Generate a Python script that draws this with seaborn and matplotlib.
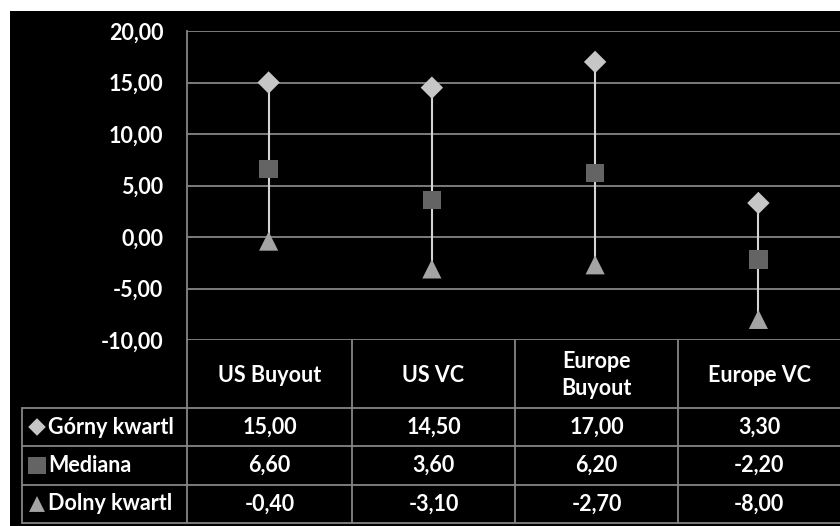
import matplotlib
matplotlib.use("Agg")
import matplotlib.pyplot as plt
from matplotlib.patches import Rectangle
from matplotlib.ticker import FuncFormatter
import seaborn as sns
import pandas as pd

categories = ["US Buyout", "US VC", "Europe Buyout", "Europe VC"]
header_labels = ["US Buyout", "US VC", "Europe\nBuyout", "Europe VC"]
series_names = ["Górny kwartl", "Mediana", "Dolny kwartl"]
upper = [15.00, 14.50, 17.00, 3.30]
median = [6.60, 3.60, 6.20, -2.20]
lower = [-0.40, -3.10, -2.70, -8.00]
y_ticks = [-10, -5, 0, 5, 10, 15, 20]

sns.set_theme(style="dark")
plt.rcParams["font.family"] = ["Lato", "DejaVu Sans"]

W, H = 840, 526
fig = plt.figure(figsize=(W / 100, H / 100), dpi=100, facecolor="white")
fig.patches.append(Rectangle((10 / W, 0), (W - 10) / W, (H - 11) / H,
                             transform=fig.transFigure, facecolor="black",
                             edgecolor="none", zorder=-5))

grid_c = "#858585"
fs = 15.5

# main plot axes (pixel layout)
x0, x1, y0, y1 = 187, 840, 31, 340
ax = fig.add_axes([x0 / W, 1 - y1 / H, (x1 - x0) / W, (y1 - y0) / H])
ax.set_facecolor("black")

series_vals = [upper, median, lower]
df = pd.DataFrame({
    "cat": [c for _ in series_names for c in range(len(categories))],
    "value": [v for vals in series_vals for v in vals],
    "series": [s for s in series_names for _ in categories],
})

ax.vlines(range(len(categories)), lower, upper, color="#d4d4d4", lw=1.5, zorder=2)
sns.scatterplot(data=df, x="cat", y="value", hue="series", style="series", size="series",
                palette={"Górny kwartl": "#c6c6c6", "Mediana": "#646464", "Dolny kwartl": "#a4a4a4"},
                markers={"Górny kwartl": "D", "Mediana": "s", "Dolny kwartl": "^"},
                sizes={"Górny kwartl": 130, "Mediana": 175, "Dolny kwartl": 190},
                edgecolor="none", legend=False, ax=ax, zorder=3)

ax.set_xlim(-0.5, len(categories) - 0.5)
ax.set_ylim(-10, 20)
ax.set_yticks(y_ticks)
ax.yaxis.set_major_formatter(FuncFormatter(lambda v, p: f"{v:.2f}".replace(".", ",")))
ax.set_xticks([])
ax.set_xlabel("")
ax.set_ylabel("")
ax.grid(axis="y", color=grid_c, lw=1.3)
ax.grid(axis="x", visible=False)
ax.tick_params(axis="y", length=0, pad=17, labelsize=fs, labelcolor="white")
for side in ["top", "right", "bottom"]:
    ax.spines[side].set_visible(False)
ax.spines["left"].set_color(grid_c)
ax.spines["left"].set_linewidth(1.3)
for t in ax.get_yticklabels():
    t.set_fontweight("bold")

# data table overlay in pixel coordinates
tax = fig.add_axes([0, 0, 1, 1], facecolor="none")
tax.set_xlim(0, W)
tax.set_ylim(H, 0)
tax.axis("off")

col_edges = [187, 352, 515, 678, 840]
row_edges = [408, 446, 485, 523]
lw = 1.3
tax.plot([187, 187], [340, 523], color=grid_c, lw=lw)
for xe in col_edges[1:-1]:
    tax.plot([xe, xe], [340, 523], color=grid_c, lw=lw)
tax.plot([22, 22], [408, 523], color=grid_c, lw=lw)
for ye in row_edges:
    tax.plot([22, 840], [ye, ye], color=grid_c, lw=lw)

centers = [(col_edges[i] + col_edges[i + 1]) / 2 for i in range(4)]
for cx, lab in zip(centers, header_labels):
    tax.text(cx, 375, lab, color="white", ha="center", va="center",
             fontsize=fs, fontweight="bold", linespacing=1.3)

marker_cols = ["#c6c6c6", "#646464", "#a4a4a4"]
marker_shapes = ["D", "s", "^"]
for r, (name, vals) in enumerate(zip(series_names, series_vals)):
    cy = (row_edges[r] + row_edges[r + 1]) / 2
    tax.scatter([37], [cy], marker=marker_shapes[r], s=[80, 150, 130][r],
                color=marker_cols[r], edgecolor="none")
    tax.text(48, cy, name, color="white", ha="left", va="center",
             fontsize=fs, fontweight="bold")
    for cx, v in zip(centers, vals):
        tax.text(cx, cy, f"{v:.2f}".replace(".", ","), color="white",
                 ha="center", va="center", fontsize=fs, fontweight="bold")

fig.savefig("out.png", dpi=100, facecolor=fig.get_facecolor())
